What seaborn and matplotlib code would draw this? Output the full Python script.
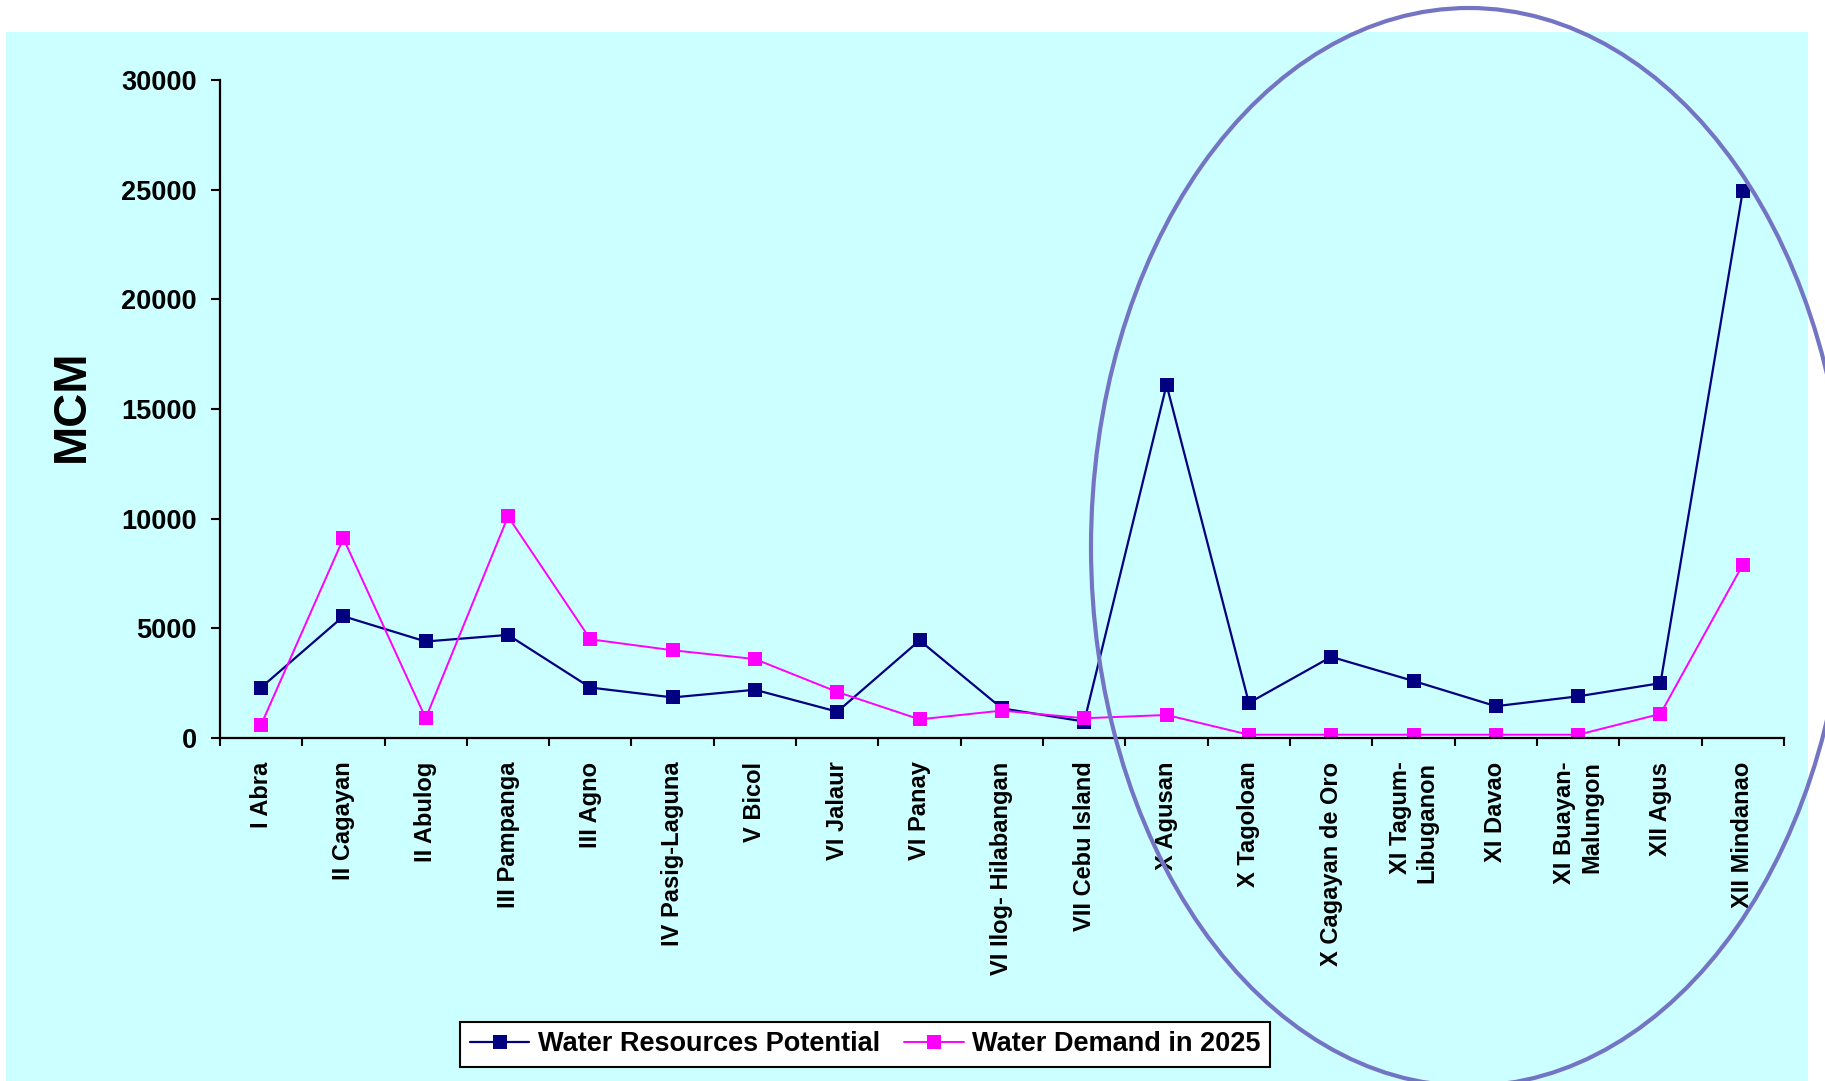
import matplotlib
matplotlib.use("Agg")
import matplotlib.pyplot as plt
from matplotlib.patches import Ellipse, Rectangle
import seaborn as sns
import pandas as pd
import numpy as np

# river basins (x axis)
basins = ["I Abra", "II Cagayan", "II Abulog", "III Pampanga", "III Agno",
          "IV Pasig-Laguna", "V Bicol", "VI Jalaur", "VI Panay",
          "VI Ilog- Hilabangan", "VII Cebu Island", "X Agusan", "X Tagoloan",
          "X Cagayan de Oro", "XI Tagum-\nLibuganon", "XI Davao",
          "XI Buayan-\nMalungon", "XII Agus", "XII Mindanao"]

# MCM
potential = [2300, 5550, 4400, 4700, 2300, 1850, 2200, 1200, 4450, 1350,
             750, 16100, 1600, 3700, 2600, 1450, 1900, 2500, 24950]
demand_2025 = [600, 9100, 900, 10100, 4500, 4000, 3600, 2100, 850, 1250,
               900, 1050, 150, 150, 150, 150, 150, 1100, 7900]

yticks = [0, 5000, 10000, 15000, 20000, 25000, 30000]

sns.set_theme(style="ticks")
plt.rcParams["font.family"] = ["Liberation Sans", "DejaVu Sans"]
plt.rcParams["font.weight"] = "bold"
for key in ["text.color", "axes.labelcolor", "xtick.color", "ytick.color"]:
    plt.rcParams[key] = "black"

df = pd.DataFrame({"pos": np.arange(len(basins)), "basin": basins,
                   "potential": potential, "demand": demand_2025})

fig = plt.figure(figsize=(18.25, 10.81), dpi=100, facecolor="white")
# cyan panel behind the chart
fig.add_artist(Rectangle((6 / 1825, 0), 1802 / 1825, 1049 / 1081,
                         transform=fig.transFigure, facecolor="#CCFFFF",
                         edgecolor="none", zorder=0))
ax = fig.add_axes([0.1205, 0.3173, 0.857, 0.6087])
ax.set_facecolor("none")

sns.lineplot(data=df, x="pos", y="potential", ax=ax, color="#000080",
             marker="s", markersize=10, linewidth=1.6, markeredgewidth=0,
             label="Water Resources Potential")
sns.lineplot(data=df, x="pos", y="demand", ax=ax, color="#FF00FF",
             marker="s", markersize=10, linewidth=1.4, markeredgewidth=0,
             label="Water Demand in 2025")

ax.set_xlim(-0.5, len(basins) - 0.5)
ax.set_ylim(0, 30000)
ax.set_yticks(yticks)
ax.set_yticklabels([str(v) for v in yticks], fontsize=19.5, fontweight="bold")
ax.set_xticks(df["pos"])
ax.set_xticklabels(basins, rotation=90, fontsize=17, fontweight="bold",
                   va="top", ha="center", multialignment="right")
ax.set_xticks(np.arange(-0.5, len(basins), 1), minor=True)
ax.tick_params(axis="x", which="major", length=0, pad=17)
ax.tick_params(axis="x", which="minor", length=6, width=1.5, color="black",
               direction="out")
ax.tick_params(axis="y", length=6.5, width=1.5, color="black",
               direction="out", pad=10)
ax.set_xlabel("")
ax.set_ylabel("MCM", fontsize=34, fontweight="bold")
ax.yaxis.set_label_coords(-0.0805, 0.505)

sns.despine(ax=ax)
for s in ["left", "bottom"]:
    ax.spines[s].set_color("black")
    ax.spines[s].set_linewidth(1.6)

leg = ax.legend(loc="center", bbox_to_anchor=(0.474, 0.034),
                bbox_transform=fig.transFigure, ncol=2, frameon=True,
                fancybox=False, framealpha=1, edgecolor="black",
                prop={"size": 19.5, "weight": "bold"}, handlelength=2.2,
                handletextpad=0.3, columnspacing=0.9, borderpad=0.35,
                numpoints=1)
leg.get_frame().set_linewidth(1.5)

# the ellipse highlighting the Mindanao basins
fig.add_artist(Ellipse((1469 / 1825, 1 - 547 / 1081), 2 * 378 / 1825,
                       2 * 539 / 1081, transform=fig.transFigure, fill=False,
                       edgecolor="#7474C4", linewidth=3, zorder=10))

fig.savefig("out.png", dpi=100)
